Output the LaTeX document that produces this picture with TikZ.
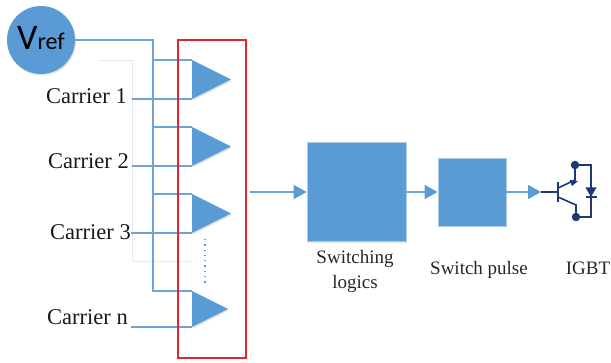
\documentclass[tikz,border=0pt]{standalone}
\usepackage{fontspec}
\setmainfont{Liberation Serif}
\newfontfamily\vfont{Carlito}
\usetikzlibrary{arrows.meta,shadows,calc}
\definecolor{bluefill}{HTML}{5B9BD5}
\definecolor{blueline}{HTML}{6FA5D6}
\definecolor{navy}{HTML}{1F3A73}
\definecolor{redbox}{HTML}{E2232A}
\definecolor{faint}{HTML}{E6ECF4}
\tikzset{
  softshadow/.style={drop shadow={opacity=.22,shadow xshift=1pt,shadow yshift=-1.5pt}},
  wire/.style={draw=blueline,line width=1.6pt},
  flow/.style={draw=blueline,line width=1.6pt,-{Triangle[length=13pt,width=14pt,color=bluefill]}},
  comp/.style={fill=bluefill,softshadow},
  block/.style={fill=bluefill,draw=blueline!55!white,line width=.8pt,inner sep=0pt,softshadow},
  lab/.style={font=\fontsize{22.5}{24}\selectfont,text=black!90,inner sep=0pt},
  smalllab/.style={font=\fontsize{19}{25}\selectfont,text=black!85,inner sep=0pt,align=center},
  igbt/.style={draw=navy,line width=1.6pt},
  dotnode/.style={circle,fill=navy,inner sep=0pt,minimum size=8.5pt},
}
\begin{document}
\begin{tikzpicture}[x=1pt,y=-1pt]
\useasboundingbox (0,0) rectangle (611,363);
\draw[faint,line width=.8pt] (98,60) -- (132,60) -- (132,261) -- (193,261);
% reference circle
\node[circle,comp,minimum size=68pt,inner sep=0pt] (vref) at (41,40) {};
\node[text=black,font=\vfont,inner sep=0pt,anchor=base] (vreflabel) at (41,50) {\fontsize{36}{36}\selectfont V\fontsize{24}{24}\selectfont ref};
% comparators
\foreach \n/\t/\b/\tip in {a/60/99/231,b/127/166/231,c/194/233/231,d/291/327/228}{
  \coordinate (\n top) at (192,\t);
  \coordinate (\n bot) at (192,\b);
  \path[comp] (\n top) -- (\n bot) -- (\tip,{(\t+\b)/2}) -- cycle;
}
% carrier labels
\node[lab,anchor=east] (c1) at (127,96) {Carrier 1};
\node[lab,anchor=east] (c2) at (129,161) {Carrier 2};
\node[lab,anchor=east] (c3) at (131,232) {Carrier 3};
\node[lab,anchor=east] (cn) at (128,317) {Carrier n};
% wires
\coordinate (bus) at (153,40);
\draw[wire] (vref.east |- bus) -- (bus) -- (bus |- dtop) -- (dtop);
\draw[wire] (bus |- atop) -- (atop);
\draw[wire] (bus |- btop) -- (btop);
\draw[wire] (bus |- ctop) -- (ctop);
\coordinate (c1s) at (132,99);
\coordinate (c2s) at (132,166);
\coordinate (c3s) at (131,233);
\coordinate (cns) at (131,327);
\draw[wire] (c1s) -- (abot);
\draw[wire] (c2s) -- (bbot);
\draw[wire] (c3s) -- (cbot);
\draw[wire] (cns) -- (dbot);
\draw[draw=bluefill,line width=1.3pt,dash pattern=on 1.3pt off 4pt] (205,239) -- (205,283);
% red box
\node[draw=redbox,line width=1.9pt,minimum width=68pt,minimum height=318pt,inner sep=0pt] (redbox) at (212,199) {};
% blocks
\node[block,minimum size=99pt] (logic) at (356.5,192) {};
\node[block,minimum size=68pt] (pulse) at (472,192) {};
\coordinate (fromred) at (250,192);
\coordinate (igbtin) at (541,192);
\draw[flow] (fromred) -- (logic.west);
\draw[flow] (logic.east) -- (pulse.west);
\draw[flow] (pulse.east) -- (igbtin);
% IGBT
\coordinate (gate) at (558,192);
\node[dotnode] (coll) at (575,165) {};
\node[dotnode] (emit) at (576,217) {};
\draw[igbt] (igbtin) -- (gate);
\draw[igbt] (558,182.5) -- (558,202);
\draw[igbt] (558,188) -- (575,180) -- (coll.center);
\draw[igbt] (558,197) -- (576,205) -- (emit.center);
\draw[igbt] (coll.center) -- (591,165) -- (591,217) -- (emit.center);
\fill[navy] (578,181) -- (569.5,180) -- (572,186) -- cycle;
\fill[navy] (585.5,187.5) -- (596.5,187.5) -- (591,197) -- cycle;
\draw[igbt] (585.5,197) -- (596.5,197);
% captions
\node[smalllab] (logiclab) at (355,271) {Switching\\logics};
\node[smalllab,anchor=base] (pulselab) at (479,275) {Switch pulse};
\node[smalllab,anchor=base] (igbtlab) at (588,275) {IGBT};
\end{tikzpicture}
\end{document}
